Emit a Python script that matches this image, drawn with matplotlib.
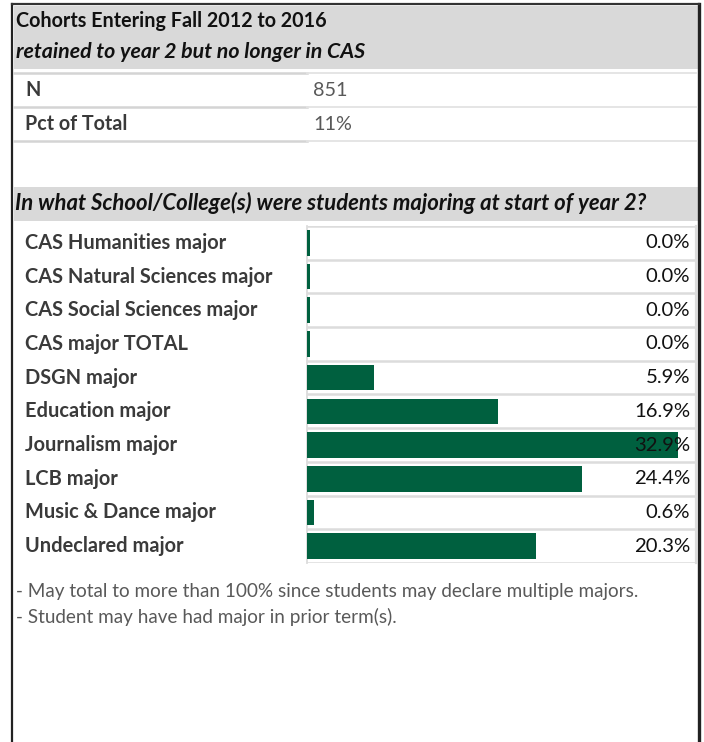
import matplotlib as mpl
mpl.use('Agg')
import matplotlib.pyplot as plt
from matplotlib.transforms import blended_transform_factory
from matplotlib.patches import Rectangle

plt.rcParams['font.family'] = ['Lato', 'DejaVu Sans']

# data
majors = ['CAS Humanities major', 'CAS Natural Sciences major', 'CAS Social Sciences major',
          'CAS major TOTAL', 'DSGN major', 'Education major', 'Journalism major',
          'LCB major', 'Music & Dance major', 'Undeclared major']
pct = [0.0, 0.0, 0.0, 0.0, 5.9, 16.9, 32.9, 24.4, 0.6, 20.3]
summary_labels = ['N', 'Pct of Total']
summary_values = ['851', '11%']
title1 = 'Cohorts Entering Fall 2012 to 2016'
title2 = 'retained to year 2 but no longer in CAS'
question = 'In what School/College(s) were students majoring at start of year 2?'
notes = ['- May total to more than 100% since students may declare multiple majors.',
         '- Student may have had major in prior term(s).']

W, H = 704, 742
fig = plt.figure(figsize=(W / 100, H / 100), dpi=100)

# background axes in pixel units
bg = fig.add_axes([0, 0, 1, 1])
bg.set_xlim(0, W)
bg.set_ylim(H, 0)
bg.axis('off')

green = '#00603f'
hdr_gray = '#d9d9d9'
line_gray = '#dcdcdc'
txt_dark = '#3a3a3a'

# outer frame
bg.plot([12, 12], [4, H], color='#222222', lw=1.6)
bg.plot([699, 699], [4, H], color='#222222', lw=2.4)
bg.plot([12, 699], [4, 4], color='#333333', lw=1.6)

# header block
bg.add_patch(Rectangle((14, 6), 684, 63, color=hdr_gray, lw=0))
bg.text(16, 21, title1, fontsize=14.2, fontweight='bold', color='#111111', va='center')
bg.text(16, 52, title2, fontsize=15.4, fontweight='bold', style='italic', color='#111111', va='center')

# N / Pct rows
for y in [73, 107, 141]:
    bg.plot([14, 307], [y, y], color='#d4d4d4', lw=1.8)
    bg.plot([307, 696], [y, y], color='#e3e3e3', lw=1.3)
for i, (lab, val) in enumerate(zip(summary_labels, summary_values)):
    yc = 90 + i * 34
    bg.text(25, yc, lab, fontsize=14.2, fontweight='bold', color=txt_dark, va='center')
    bg.text(313, yc, val, fontsize=14.2, color='#595959', va='center')

# question header
bg.add_patch(Rectangle((14, 187), 684, 34, color=hdr_gray, lw=0))
bg.text(15, 203, question, fontsize=15.9, fontweight='bold', style='italic', color='#111111', va='center')

# bar axes
top_px, bot_px = 226, 563
left_px, right_px = 307, 696
px_per_pct = 11.28
bax = fig.add_axes([left_px / W, 1 - bot_px / H, (right_px - left_px) / W, (bot_px - top_px) / H])
bax.set_xlim(0, (right_px - left_px) / px_per_pct)
bax.set_ylim(len(majors) - 0.5, -0.5)
bax.axis('off')
bax.patch.set_alpha(0)

rows = range(len(majors))
bax.barh(rows, pct, height=0.76, color=green, left=0)
bax.barh(rows, [0.27] * len(majors), height=0.76, color=green)  # thin stub shown for every row

# row grid lines
for k in range(len(majors) + 1):
    bax.axhline(k - 0.5, color=line_gray, lw=1.8, zorder=0)
bg.plot([307, 307], [top_px, bot_px], color=line_gray, lw=1.3, zorder=0)
bg.plot([696, 696], [top_px, bot_px], color=line_gray, lw=1.6, zorder=0)

tr = blended_transform_factory(bg.transData, bax.transData)
for i, (lab, v) in enumerate(zip(majors, pct)):
    fig.text(25, i, lab, transform=tr, fontsize=14.4, fontweight='bold', color=txt_dark, va='center')
    fig.text(690, i, f'{v:.1f}%', transform=tr, fontsize=14.6, color='#111111', va='center', ha='right')

# footnotes
for j, note in enumerate(notes):
    bg.text(16, 591 + j * 26, note, fontsize=13.6, color='#595959', va='center')

fig.savefig('out.png', dpi=100)
